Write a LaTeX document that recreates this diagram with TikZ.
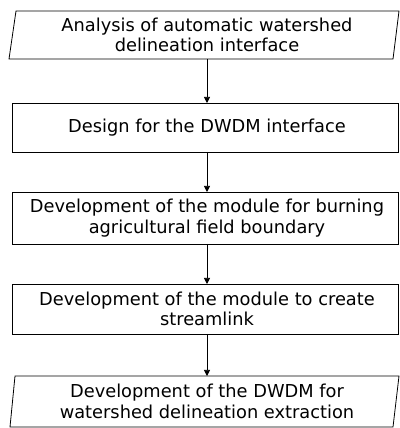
\documentclass[tikz,border=0pt]{standalone}
\usepackage{fontspec}
\setmainfont{DejaVu Sans}
\usetikzlibrary{arrows.meta}
\begin{document}
\begin{tikzpicture}[x=1pt,y=1pt,
  frame/.style={draw=black,line width=0.8pt},
  label/.style={align=center,font=\fontsize{17.8}{20.5}\selectfont,inner sep=0pt},
  flow/.style={draw=black,line width=0.7pt,-{Triangle[length=6pt,width=6pt]}}]
\useasboundingbox (0,0) rectangle (399,428);
% input / output parallelograms and process boxes
\draw[frame] (16,417) -- (399,417) -- (393,369) -- (9,369) -- cycle;
\draw[frame] (12,325) rectangle (398,276);
\draw[frame] (12,236) rectangle (398,184);
\draw[frame] (12,144) rectangle (398,94);
\draw[frame] (15,52) -- (399,52) -- (393,1) -- (10,1) -- cycle;
% labels
\node[label] (s1) at (207,393) {Analysis of automatic watershed\\delineation interface};
\node[label] (s2) at (207,300.5) {Design for the DWDM interface};
\node[label] (s3) at (207,210) {Development of the module for burning\\agricultural field boundary};
\node[label] (s4) at (207,119) {Development of the module to create\\streamlink};
\node[label] (s5) at (207,26.5) {Development of the DWDM for\\watershed delineation extraction};
% connectors between the frames
\coordinate (a1) at (207,369); \coordinate (b1) at (207,325);
\coordinate (a2) at (207,276); \coordinate (b2) at (207,236);
\coordinate (a3) at (207,184); \coordinate (b3) at (207,144);
\coordinate (a4) at (207,94);  \coordinate (b4) at (207,52);
\draw[flow] (a1) -- (b1);
\draw[flow] (a2) -- (b2);
\draw[flow] (a3) -- (b3);
\draw[flow] (a4) -- (b4);
\end{tikzpicture}
\end{document}
